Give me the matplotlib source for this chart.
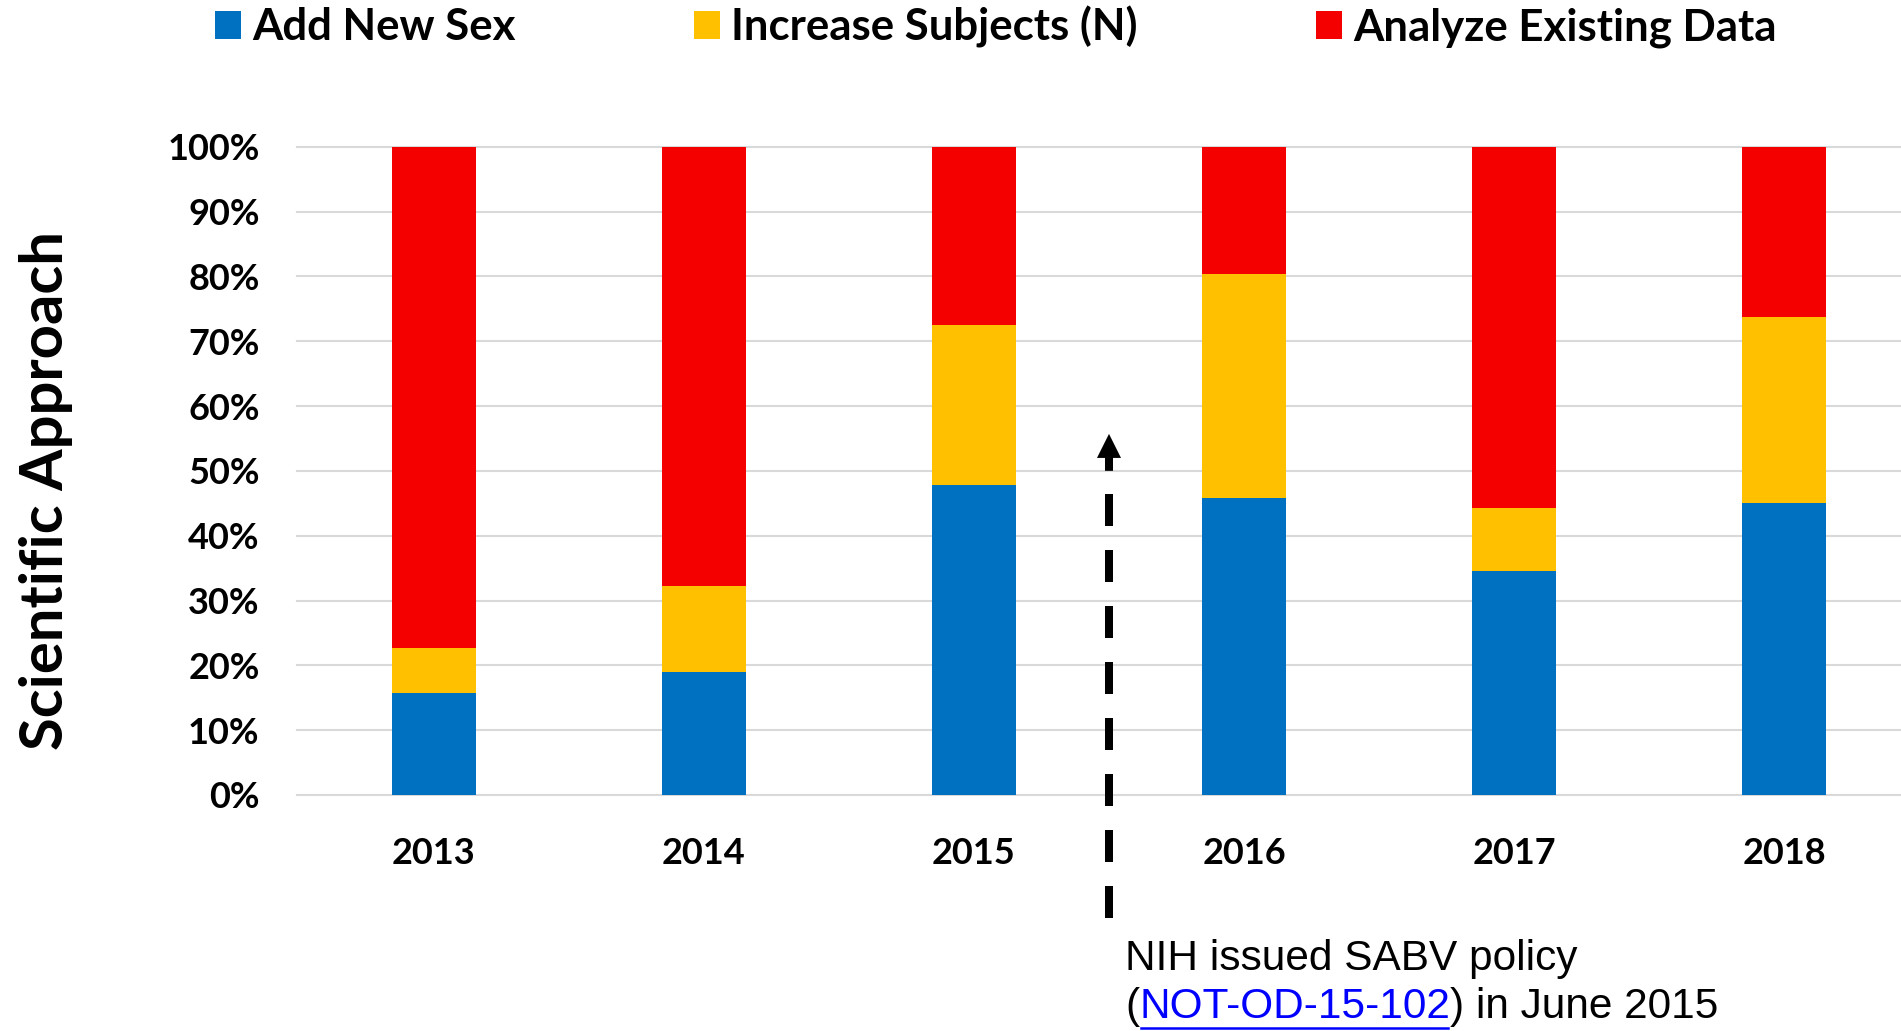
import matplotlib.pyplot as plt
from matplotlib.lines import Line2D

years = ["2013", "2014", "2015", "2016", "2017", "2018"]
add_new_sex = [15.7, 19.0, 47.8, 45.8, 34.5, 45.1]
increase_n = [6.9, 13.3, 24.7, 34.5, 9.7, 28.7]
analyze_existing = [77.4, 67.7, 27.5, 19.7, 55.8, 26.2]
series_labels = ["Add New Sex", "Increase Subjects (N)", "Analyze Existing Data"]
colors = ["#0070C0", "#FFC000", "#F50000"]

W, H = 1901, 1031
fig = plt.figure(figsize=(W / 100, H / 100), dpi=100)
ax = fig.add_axes([297 / W, 1 - 795 / H, (W - 297) / W, (795 - 146.7) / H])

x = list(range(len(years)))
bottom = [0.0] * len(years)
handles = []
for vals, lab, col in zip([add_new_sex, increase_n, analyze_existing], series_labels, colors):
    b = ax.bar(x, vals, width=0.31, bottom=bottom, color=col, label=lab, zorder=3)
    handles.append(b)
    bottom = [bo + v for bo, v in zip(bottom, vals)]

ax.set_xlim(-0.507, 5.433)
ax.set_ylim(0, 100)
ax.set_yticks(range(0, 101, 10))
ax.set_yticklabels([f"{v}%" for v in range(0, 101, 10)])
ax.set_xticks(x)
ax.set_xticklabels(years)
bold = dict(family="Lato", weight="bold")
for t in ax.get_xticklabels() + ax.get_yticklabels():
    t.set_fontfamily("Lato")
    t.set_fontweight("bold")
    t.set_fontsize(26)
ax.tick_params(axis="both", length=0)
ax.tick_params(axis="y", pad=27)
ax.tick_params(axis="x", pad=30)
for s in ax.spines.values():
    s.set_visible(False)
ax.set_axisbelow(True)
ax.grid(axis="y", color="#D9D9D9", linewidth=1.5)
for gl in ax.get_ygridlines():
    gl.set_clip_on(False)

fig.text(46 / W, 1 - 491 / H, "Scientific Approach", rotation=90, ha="center", va="center",
         fontsize=43, **bold)

fig.legend(handles=handles, loc="center left", bbox_to_anchor=(214.6 / W, 1 - 26.7 / H),
           ncol=3, frameon=False, borderpad=0, borderaxespad=0,
           handlelength=0.6, handleheight=0.6, handletextpad=0.25, columnspacing=4.08,
           prop=dict(family="Lato", weight="bold", size=31.5))

# policy marker: dashed shaft + arrow head
policy_x = 2.5
ax.plot([policy_x, policy_x], [-19, 50], color="black", lw=5.76, ls=(0, (4, 3)),
        solid_capstyle="butt", dash_capstyle="butt", clip_on=False, zorder=4)
ax.annotate("", xy=(policy_x, 55.7), xytext=(policy_x, 50),
            arrowprops=dict(width=5.76, headwidth=17.3, headlength=17.3, lw=0,
                            color="black", shrink=0), zorder=4)

note = dict(family="Liberation Sans", size=30.5)
fig.text(1125 / W, 1 - 970 / H, "NIH issued SABV policy", ha="left", va="baseline", **note)
t1 = fig.text(1125 / W, 1 - 1018 / H, "(", ha="left", va="baseline", **note)
t2 = ax.annotate("NOT-OD-15-102", xy=(1, 0), xycoords=t1, va="bottom", ha="left",
                 color="#0000FF", **note)
t3 = ax.annotate(") in June 2015", xy=(1, 0), xycoords=t2, va="bottom", ha="left", **note)

# underline the link text
fig.canvas.draw()
bb = t2.get_window_extent(renderer=fig.canvas.get_renderer())
uy = (H - 1027.5) / H
fig.add_artist(Line2D([bb.x0 / W + 0.001, bb.x1 / W - 0.001], [uy, uy], color="#0000FF", lw=1.8,
                      transform=fig.transFigure))

fig.savefig("out.png", dpi=100)
